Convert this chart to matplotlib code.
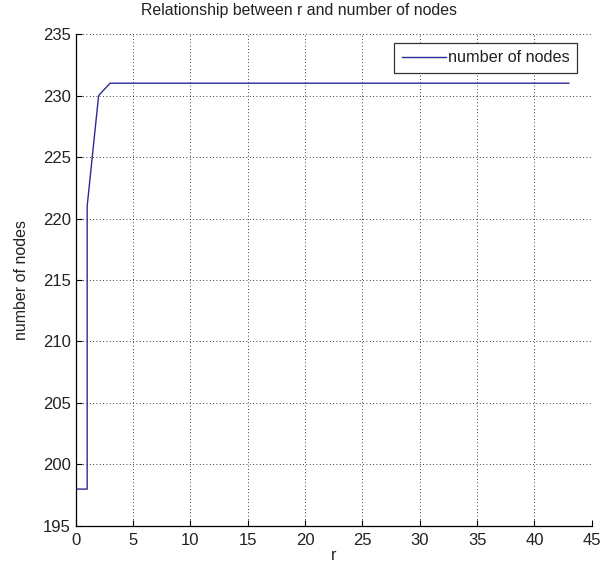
import matplotlib
matplotlib.use('Agg')
import matplotlib.pyplot as plt

# values
r = [0, 1, 1, 2, 3] + list(range(4, 44))
nodes = [198, 198, 221, 230, 231] + [231] * 40

xticks = list(range(0, 50, 5))
yticks = list(range(195, 240, 5))

plt.rcParams['font.family'] = ['Liberation Sans', 'DejaVu Sans']
txt = '#222222'

fig = plt.figure(figsize=(6.07, 5.69), dpi=100)
ax = fig.add_axes([0.1247, 0.0756, 0.8503, 0.8646])

ax.plot(r, nodes, color='#2b2b96', linewidth=1.0, label='number of nodes')

ax.set_xlim(0, 45)
ax.set_ylim(195, 235)
ax.set_xticks(xticks)
ax.set_yticks(yticks)
ax.tick_params(direction='in', length=4, width=0.8, labelsize=12, colors='black',
               labelcolor=txt)
ax.tick_params(axis='x', pad=5)
ax.grid(True, linestyle=(0, (1, 3)), color='black', linewidth=0.6)

for side in ['top', 'right']:
    ax.spines[side].set_visible(False)
for side in ['left', 'bottom']:
    ax.spines[side].set_linewidth(0.9)

fig.text(299 / 607, 1 - 10 / 569, 'Relationship between r and number of nodes',
         fontsize=11.4, ha='center', va='center', color=txt)
ax.set_xlabel('r', fontsize=11.5, labelpad=0, color=txt)
ax.set_ylabel('number of nodes', fontsize=11.5, labelpad=10, color=txt)

leg = ax.legend(loc='upper right', fontsize=11.7, fancybox=False, framealpha=1,
                edgecolor='#333333', handlelength=2.7, handletextpad=0.15,
                borderpad=0.45, borderaxespad=0,
                bbox_to_anchor=(577 / 607, 1 - 43 / 569),
                bbox_transform=fig.transFigure)
leg.get_frame().set_linewidth(0.9)
for t in leg.get_texts():
    t.set_color(txt)

fig.savefig('out.png', dpi=100)
